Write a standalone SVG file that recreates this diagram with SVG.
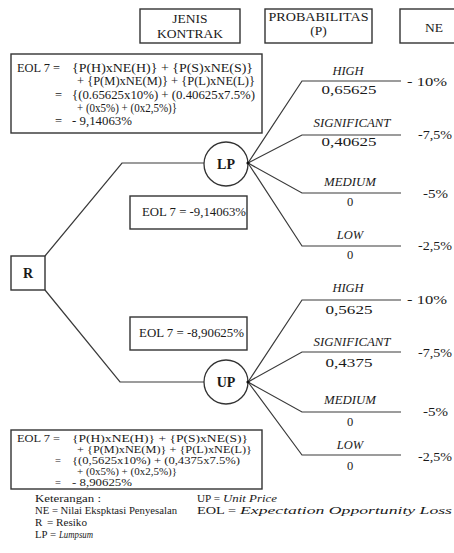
<svg xmlns="http://www.w3.org/2000/svg" width="454" height="553" viewBox="0 0 454 553">
  <style>
    text { font-family: "Liberation Serif", "DejaVu Serif", serif; fill: #1a1a1a; font-size: 12.5px; }
    .box { fill: #ffffff; stroke: #333333; stroke-width: 1.4; }
    .head { font-size: 13.5px; text-anchor: middle; }
    .node { fill: #ffffff; stroke: #333333; stroke-width: 1.3; }
    .nlab { font-weight: bold; font-size: 14px; text-anchor: middle; }
    .wire { fill: none; stroke: #3a3a3a; stroke-width: 1.2; }
    .it { font-style: italic; }
    .mid { text-anchor: middle; }
    .ne { font-size: 12.5px; }
    .sm { font-size: 10.5px; }
    .lg { font-size: 11px; }
  </style>
  <rect width="454" height="553" fill="#ffffff"/>

  <!-- column headers -->
  <g id="head-jenis">
    <rect class="box" x="140" y="9" width="100" height="34"/>
    <text class="head" x="190" y="23">JENIS</text>
    <text class="head" x="190" y="38">KONTRAK</text>
  </g>
  <g id="head-prob">
    <rect class="box" x="265" y="9" width="107" height="34"/>
    <text class="head" x="318.5" y="21" textLength="100" lengthAdjust="spacingAndGlyphs">PROBABILITAS</text>
    <text class="head" x="318.5" y="35">(P)</text>
  </g>
  <g id="head-ne">
    <rect class="box" x="400" y="9" width="60" height="34"/>
    <text class="head" x="434" y="32">NE</text>
  </g>

  <!-- connectors -->
  <g id="connectors" class="wire">
    <polyline points="45,256 122,163 204,163"/>
    <polyline points="45,290 120,382 204,382"/>
    <polyline points="248,163 302,81 401,81"/>
    <polyline points="248,163 302,135 401,135"/>
    <polyline points="248,163 302,193 401,193"/>
    <polyline points="248,163 302,246 401,246"/>
    <polyline points="248,382 302,300 401,300"/>
    <polyline points="248,382 302,352 401,352"/>
    <polyline points="248,382 302,412 401,412"/>
    <polyline points="248,382 302,455 401,455"/>
  </g>

  <!-- decision node -->
  <g id="node-r">
    <rect class="box" x="11" y="256" width="34" height="34"/>
    <text class="nlab" x="28" y="278">R</text>
  </g>

  <!-- chance nodes -->
  <g id="node-lp">
    <circle class="node" cx="226" cy="164" r="22"/>
    <text class="nlab" x="226" y="169">LP</text>
    <circle cx="248" cy="163" r="1.6" fill="#111"/>
  </g>
  <g id="node-up">
    <circle class="node" cx="226" cy="382" r="22"/>
    <text class="nlab" x="226" y="387">UP</text>
    <circle cx="248" cy="382" r="1.6" fill="#111"/>
  </g>

  <!-- LP outcomes -->
  <g id="lp-high">
    <text class="it mid" x="348" y="75">HIGH</text>
    <text class="mid" x="349" y="94" textLength="55" lengthAdjust="spacingAndGlyphs">0,65625</text>
    <text class="ne" x="407" y="86" textLength="40" lengthAdjust="spacingAndGlyphs">- 10%</text>
  </g>
  <g id="lp-significant">
    <text class="it mid" x="352" y="127" textLength="77" lengthAdjust="spacingAndGlyphs">SIGNIFICANT</text>
    <text class="mid" x="349" y="146" textLength="55" lengthAdjust="spacingAndGlyphs">0,40625</text>
    <text class="ne" x="418" y="139" textLength="34" lengthAdjust="spacingAndGlyphs">-7,5%</text>
  </g>
  <g id="lp-medium">
    <text class="it mid" x="350" y="186" textLength="52" lengthAdjust="spacingAndGlyphs">MEDIUM</text>
    <text class="mid" x="350" y="206">0</text>
    <text class="ne" x="423" y="198" textLength="25" lengthAdjust="spacingAndGlyphs">-5%</text>
  </g>
  <g id="lp-low">
    <text class="it mid" x="350" y="239">LOW</text>
    <text class="mid" x="350" y="259">0</text>
    <text class="ne" x="418" y="250" textLength="34" lengthAdjust="spacingAndGlyphs">-2,5%</text>
  </g>

  <!-- UP outcomes -->
  <g id="up-high">
    <text class="it mid" x="348" y="292">HIGH</text>
    <text class="mid" x="349" y="314" textLength="47" lengthAdjust="spacingAndGlyphs">0,5625</text>
    <text class="ne" x="407" y="304" textLength="40" lengthAdjust="spacingAndGlyphs">- 10%</text>
  </g>
  <g id="up-significant">
    <text class="it mid" x="352" y="346" textLength="77" lengthAdjust="spacingAndGlyphs">SIGNIFICANT</text>
    <text class="mid" x="349" y="367" textLength="47" lengthAdjust="spacingAndGlyphs">0,4375</text>
    <text class="ne" x="418" y="357" textLength="34" lengthAdjust="spacingAndGlyphs">-7,5%</text>
  </g>
  <g id="up-medium">
    <text class="it mid" x="350" y="404" textLength="52" lengthAdjust="spacingAndGlyphs">MEDIUM</text>
    <text class="mid" x="350" y="426">0</text>
    <text class="ne" x="423" y="416" textLength="25" lengthAdjust="spacingAndGlyphs">-5%</text>
  </g>
  <g id="up-low">
    <text class="it mid" x="350" y="449">LOW</text>
    <text class="mid" x="350" y="470">0</text>
    <text class="ne" x="418" y="461" textLength="34" lengthAdjust="spacingAndGlyphs">-2,5%</text>
  </g>

  <!-- short EOL results -->
  <g id="eol-lp">
    <rect class="box" x="130" y="196" width="117" height="33"/>
    <text x="142" y="216" textLength="104" lengthAdjust="spacingAndGlyphs">EOL 7 = -9,14063%</text>
  </g>
  <g id="eol-up">
    <rect class="box" x="130" y="317" width="117" height="33"/>
    <text x="139" y="337" textLength="105" lengthAdjust="spacingAndGlyphs">EOL 7 = -8,90625%</text>
  </g>

  <!-- EOL calculation for LP -->
  <g id="calc-lp">
    <rect class="box" x="11" y="54" width="251" height="79"/>
    <text x="17" y="72" textLength="43" lengthAdjust="spacingAndGlyphs">EOL 7 =</text>
    <text x="72" y="72" textLength="181" lengthAdjust="spacingAndGlyphs">{P(H)xNE(H)} + {P(S)xNE(S)}</text>
    <text x="77" y="85" textLength="178" lengthAdjust="spacingAndGlyphs">+ {P(M)xNE(M)} + {P(L)xNE(L)}</text>
    <text x="55" y="98.5">=</text>
    <text x="72" y="98.5" textLength="183" lengthAdjust="spacingAndGlyphs">{(0.65625x10%) + (0.40625x7.5%)</text>
    <text x="77" y="111.5" textLength="100" lengthAdjust="spacingAndGlyphs">+ (0x5%) + (0x2,5%)}</text>
    <text x="55" y="125">=</text>
    <text x="72" y="125" textLength="60" lengthAdjust="spacingAndGlyphs">- 9,14063%</text>
  </g>

  <!-- EOL calculation for UP -->
  <g id="calc-up" class="sm">
    <rect class="box" x="11" y="430" width="251" height="59"/>
    <text class="sm" x="17" y="442" textLength="43" lengthAdjust="spacingAndGlyphs">EOL 7 =</text>
    <text class="sm" x="72" y="442" textLength="176" lengthAdjust="spacingAndGlyphs">{P(H)xNE(H)} + {P(S)xNE(S)}</text>
    <text class="sm" x="77" y="453" textLength="175" lengthAdjust="spacingAndGlyphs">+ {P(M)xNE(M)} + {P(L)xNE(L)}</text>
    <text class="sm" x="55" y="464">=</text>
    <text class="sm" x="72" y="464" textLength="168" lengthAdjust="spacingAndGlyphs">{(0,5625x10%) + (0,4375x7.5%)</text>
    <text class="sm" x="77" y="475" textLength="100" lengthAdjust="spacingAndGlyphs">+ (0x5%) + (0x2,5%)}</text>
    <text class="sm" x="55" y="486">=</text>
    <text class="sm" x="72" y="486" textLength="60" lengthAdjust="spacingAndGlyphs">- 8,90625%</text>
  </g>

  <!-- legend -->
  <g id="legend">
    <text class="lg" x="35" y="502" textLength="66" lengthAdjust="spacingAndGlyphs">Keterangan :</text>
    <text class="lg" x="35" y="514" textLength="142" lengthAdjust="spacingAndGlyphs">NE = Nilai Ekspktasi Penyesalan</text>
    <text class="lg" x="35" y="526">R</text>
    <text class="lg" x="47" y="526" textLength="40" lengthAdjust="spacingAndGlyphs">= Resiko</text>
    <text class="lg" x="35" y="538" textLength="21" lengthAdjust="spacingAndGlyphs">LP =</text>
    <text class="lg it" x="59" y="538" textLength="34" lengthAdjust="spacingAndGlyphs">Lumpsum</text>
    <text class="lg" x="197" y="502" textLength="23" lengthAdjust="spacingAndGlyphs">UP =</text>
    <text class="lg it" x="223" y="502" textLength="54" lengthAdjust="spacingAndGlyphs">Unit Price</text>
    <text class="lg" x="197" y="514" textLength="39" lengthAdjust="spacingAndGlyphs">EOL =</text>
    <text class="lg it" x="240" y="514" textLength="212" lengthAdjust="spacingAndGlyphs">Expectation Opportunity Loss</text>
  </g>
</svg>
